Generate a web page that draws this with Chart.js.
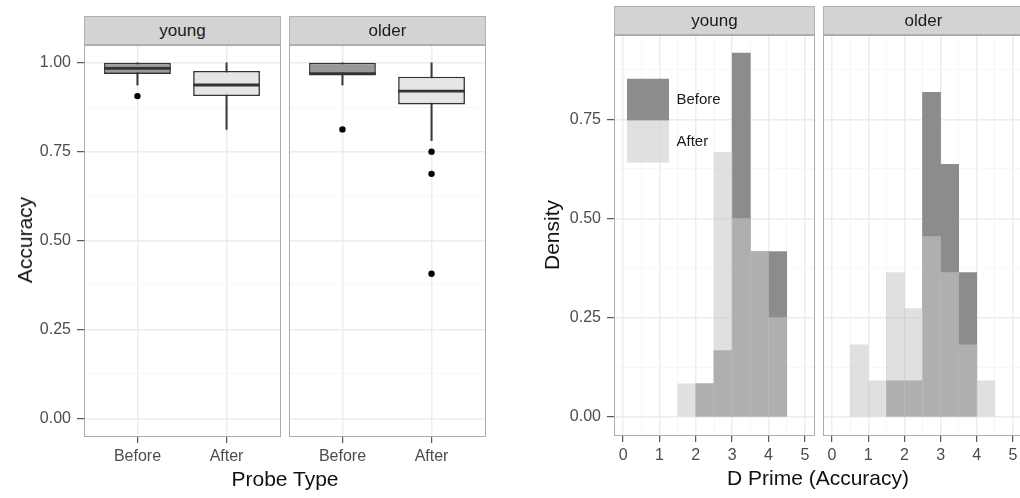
<!DOCTYPE html>
<html><head><meta charset="utf-8">
<script src="https://cdn.jsdelivr.net/npm/chart.js@4.4.0/dist/chart.umd.min.js"></script>
<style>
html,body{margin:0;padding:0;background:#fff;overflow:hidden;width:1020px;height:498px;position:relative;}
canvas{position:absolute;}
.strip{position:absolute;background:#d3d3d3;border:1px solid #b0b0b0;box-sizing:border-box;height:29px;padding-top:4px;line-height:23px;font:17px 'Liberation Sans',Arial,sans-serif;color:#1a1a1a;text-align:center;}
.ttl{position:absolute;font:21px 'Liberation Sans',Arial,sans-serif;color:#111;white-space:nowrap;transform:translate(-50%,-50%);}
.rot{transform:translate(-50%,-50%) rotate(-90deg);}
</style></head>
<body>
<canvas id="boxYoung"></canvas>
<canvas id="boxOlder"></canvas>
<canvas id="histYoung"></canvas>
<canvas id="histOlder"></canvas>
<div class="strip" style="left:84px;top:16px;width:197px;">young</div>
<div class="strip" style="left:289px;top:16px;width:197px;">older</div>
<div class="strip" style="left:614px;top:6px;width:201px;">young</div>
<div class="strip" style="left:823px;top:6px;width:201px;">older</div>
<div class="ttl rot" style="left:25px;top:240px;">Accuracy</div>
<div class="ttl" style="left:285px;top:479px;">Probe Type</div>
<div class="ttl rot" style="left:552px;top:235px;">Density</div>
<div class="ttl" style="left:818px;top:478px;">D Prime (Accuracy)</div>
<script>
// ---------------- data ----------------
const boxCategories = ['Before', 'After'];
const boxPositions = [1, 2];
const accuracyTicks = [0, 0.25, 0.5, 0.75, 1.0];
const accuracyMinor = [0.125, 0.375, 0.625, 0.875];

const youngLowWhisker = [0.9375, 0.8125];
const youngQ1 = [0.96875, 0.90625];
const youngMedian = [0.984, 0.9375];
const youngQ3 = [1.0, 0.977];
const youngHighWhisker = [1.0, 1.0];
const youngOutliersBefore = [0.90625];
const youngOutliersAfter = [];

const olderLowWhisker = [0.9375, 0.78125];
const olderQ1 = [0.96875, 0.8828];
const olderMedian = [0.96875, 0.92];
const olderQ3 = [1.0, 0.9609];
const olderHighWhisker = [1.0, 1.0];
const olderOutliersBefore = [0.8125];
const olderOutliersAfter = [0.75, 0.6875, 0.40625];

const binCenters = [0.75, 1.25, 1.75, 2.25, 2.75, 3.25, 3.75, 4.25];
const dprimeTicks = [0, 1, 2, 3, 4, 5];
const dprimeMinor = [0.5, 1.5, 2.5, 3.5, 4.5];
const densityTicks = [0, 0.25, 0.5, 0.75];
const densityMinor = [0.125, 0.375, 0.625, 0.875];
const youngBeforeDensity = [null, null, null, 0.0833, 0.1667, 0.9167, 0.4167, 0.4167];
const youngAfterDensity  = [null, null, 0.0833, 0.0833, 0.6667, 0.5, 0.4167, 0.25];
const olderBeforeDensity = [null, null, 0.0909, 0.0909, 0.8182, 0.6364, 0.3636, null];
const olderAfterDensity  = [0.1818, 0.0909, 0.3636, 0.2727, 0.4545, 0.3636, 0.1818, 0.0909];

// ---------------- styling ----------------
Chart.defaults.font.family = "'Liberation Sans', Arial, sans-serif";
const FONT_TICK = 16;
const GRID_MAJOR = '#ececec', GRID_MINOR = '#f5f5f5', BORDER = '#ababab', TICK = '#333333', TICK_TEXT = '#4d4d4d';
const BOX_FILL = ['#999999', '#e5e5e5'];
const HIST_BEFORE = '#8c8c8c', HIST_AFTER = 'rgba(201,201,201,0.574)';

function place(id, left, top, w, h) {
  const c = document.getElementById(id);
  c.width = w; c.height = h;
  c.style.left = left + 'px'; c.style.top = top + 'px';
  c.style.width = w + 'px'; c.style.height = h + 'px';
  return c;
}

function axisX(min, max, major, minor, labelFn, axisH) {
  const all = major.concat(minor).sort((a, b) => a - b);
  return {
    type: 'linear', position: 'bottom', min, max, offset: false,
    afterBuildTicks: s => { s.ticks = all.map(v => ({ value: v })); },
    afterFit: s => { s.height = axisH; s.paddingLeft = 0; s.paddingRight = 0; },
    grid: {
      offset: false, drawTicks: true, tickLength: 7, tickWidth: 1, z: -1,
      color: c => major.includes(c.tick.value) ? GRID_MAJOR : GRID_MINOR,
      lineWidth: c => major.includes(c.tick.value) ? 1.4 : 0.8,
      tickColor: c => major.includes(c.tick.value) ? TICK : 'rgba(0,0,0,0)'
    },
    border: { display: true, color: BORDER, width: 1 },
    ticks: {
      autoSkip: false, maxRotation: 0, padding: 4, color: TICK_TEXT, font: { size: FONT_TICK },
      callback: v => major.includes(v) ? labelFn(v) : ''
    }
  };
}

function axisY(min, max, major, minor, showLabels, axisW) {
  const all = major.concat(minor).sort((a, b) => a - b);
  return {
    type: 'linear', position: 'left', min, max,
    afterBuildTicks: s => { s.ticks = all.map(v => ({ value: v })); },
    afterFit: s => { s.width = axisW; s.paddingTop = 0; s.paddingBottom = 0; },
    grid: {
      drawTicks: showLabels, tickLength: 7, tickWidth: 1, z: -1,
      color: c => major.includes(c.tick.value) ? GRID_MAJOR : GRID_MINOR,
      lineWidth: c => major.includes(c.tick.value) ? 1.4 : 0.8,
      tickColor: c => major.includes(c.tick.value) ? TICK : 'rgba(0,0,0,0)'
    },
    border: { display: true, color: BORDER, width: 1 },
    ticks: {
      display: showLabels, padding: 6, color: TICK_TEXT, font: { size: FONT_TICK },
      callback: v => major.includes(v) ? v.toFixed(2) : ''
    }
  };
}

function frameAxes() {
  return {
    xTop: { type: 'linear', position: 'top', display: true, grid: { display: false, drawTicks: false },
      ticks: { display: false }, border: { display: true, color: BORDER, width: 1 },
      afterFit: s => { s.height = 0; s.paddingLeft = 0; s.paddingRight = 0; } },
    yRight: { type: 'linear', position: 'right', display: true, grid: { display: false, drawTicks: false },
      ticks: { display: false }, border: { display: true, color: BORDER, width: 1 },
      afterFit: s => { s.width = 0; s.paddingTop = 0; s.paddingBottom = 0; } }
  };
}

// ---------------- boxplots ----------------
function boxChart(id, canvasLeft, canvasTop, w, h, padLeft, showY, yAxisW, low, q1, med, q3, high, outBefore, outAfter) {
  const c = place(id, canvasLeft, canvasTop, w, h);
  const outliers = outBefore.map(v => ({ x: boxPositions[0], y: v }))
    .concat(outAfter.map(v => ({ x: boxPositions[1], y: v })));
  new Chart(c, {
    type: 'bar',
    data: {
      datasets: [
        { type: 'bar', label: 'whisker', order: 3, grouped: false,
          data: boxPositions.map((x, i) => ({ x, y: [low[i], high[i]] })),
          backgroundColor: '#3a3a3a', borderWidth: 0, maxBarThickness: 1.4,
          barPercentage: 1, categoryPercentage: 1 },
        { type: 'bar', label: 'box', order: 2, grouped: false,
          data: boxPositions.map((x, i) => ({ x, y: [q1[i], q3[i]] })),
          backgroundColor: BOX_FILL, borderColor: '#333333', borderWidth: 1.6, borderSkipped: false,
          barPercentage: 0.75, categoryPercentage: 1 },
        { type: 'scatter', label: 'median', order: 1,
          data: boxPositions.map((x, i) => ({ x, y: med[i] })),
          pointStyle: 'line', pointRadius: 33.4, pointBorderWidth: 2.8, pointBorderColor: '#333333' },
        { type: 'scatter', label: 'outliers', order: 0, data: outliers,
          pointRadius: 3.2, pointBackgroundColor: '#000', pointBorderWidth: 0 }
      ]
    },
    options: {
      responsive: false, animation: false, events: [],
      layout: { autoPadding: false, padding: { left: padLeft, top: 2, right: 2, bottom: 0 } },
      plugins: { legend: { display: false }, tooltip: { enabled: false } },
      scales: Object.assign({
        x: axisX(0.4, 2.6, boxPositions, [], v => boxCategories[boxPositions.indexOf(v)], 42),
        y: axisY(-0.05, 1.05, accuracyTicks, accuracyMinor, showY, yAxisW)
      }, frameAxes())
    }
  });
}

boxChart('boxYoung', 14, 43, 268, 435, 0, true, 70,
  youngLowWhisker, youngQ1, youngMedian, youngQ3, youngHighWhisker, youngOutliersBefore, youngOutliersAfter);
boxChart('boxOlder', 287, 43, 200, 435, 2, false, 0,
  olderLowWhisker, olderQ1, olderMedian, olderQ3, olderHighWhisker, olderOutliersBefore, olderOutliersAfter);

// ---------------- histograms ----------------
const legendInset = { x: 13, y: 43.5 };
const legendOffset = {
  id: 'legendOffset',
  afterLayout(chart) {
    const l = chart.legend, a = chart.chartArea;
    if (!l) return;
    l.left = a.left + legendInset.x; l.top = a.top + legendInset.y;
    l.right = a.right; l.bottom = a.bottom;
  }
};

function histChart(id, canvasLeft, canvasTop, w, h, padLeft, showY, yAxisW, before, after, showLegend) {
  const c = place(id, canvasLeft, canvasTop, w, h);
  const toPts = arr => binCenters.map((x, i) => ({ x, y: arr[i] })).filter(p => p.y !== null);
  new Chart(c, {
    type: 'bar',
    data: {
      datasets: [
        { label: 'Before', order: 1, grouped: false, data: toPts(before),
          backgroundColor: HIST_BEFORE, borderWidth: 0, barPercentage: 1, categoryPercentage: 1 },
        { label: 'After', order: 0, grouped: false, data: toPts(after),
          backgroundColor: HIST_AFTER, borderWidth: 0, barPercentage: 1, categoryPercentage: 1 }
      ]
    },
    options: {
      responsive: false, animation: false, events: [],
      layout: { autoPadding: false, padding: { left: padLeft, top: 2, right: 2, bottom: 0 } },
      plugins: {
        tooltip: { enabled: false },
        legend: {
          display: showLegend, position: 'chartArea', align: 'start',
          labels: { boxWidth: 42, boxHeight: 42, padding: 0, color: '#1a1a1a', font: { size: 15 },
            sort: (a, b) => a.datasetIndex - b.datasetIndex }
        }
      },
      scales: Object.assign({
        x: axisX(-0.25, 5.25, dprimeTicks, dprimeMinor, v => String(v), 42),
        y: axisY(-0.0458, 0.9625, densityTicks, densityMinor, showY, yAxisW)
      }, frameAxes())
    },
    plugins: showLegend ? [legendOffset] : []
  });
}

histChart('histYoung', 554, 33, 262, 444, 0, true, 60, youngBeforeDensity, youngAfterDensity, true);
histChart('histOlder', 821, 33, 203, 444, 2, false, 0, olderBeforeDensity, olderAfterDensity, false);
</script>
</body></html>
